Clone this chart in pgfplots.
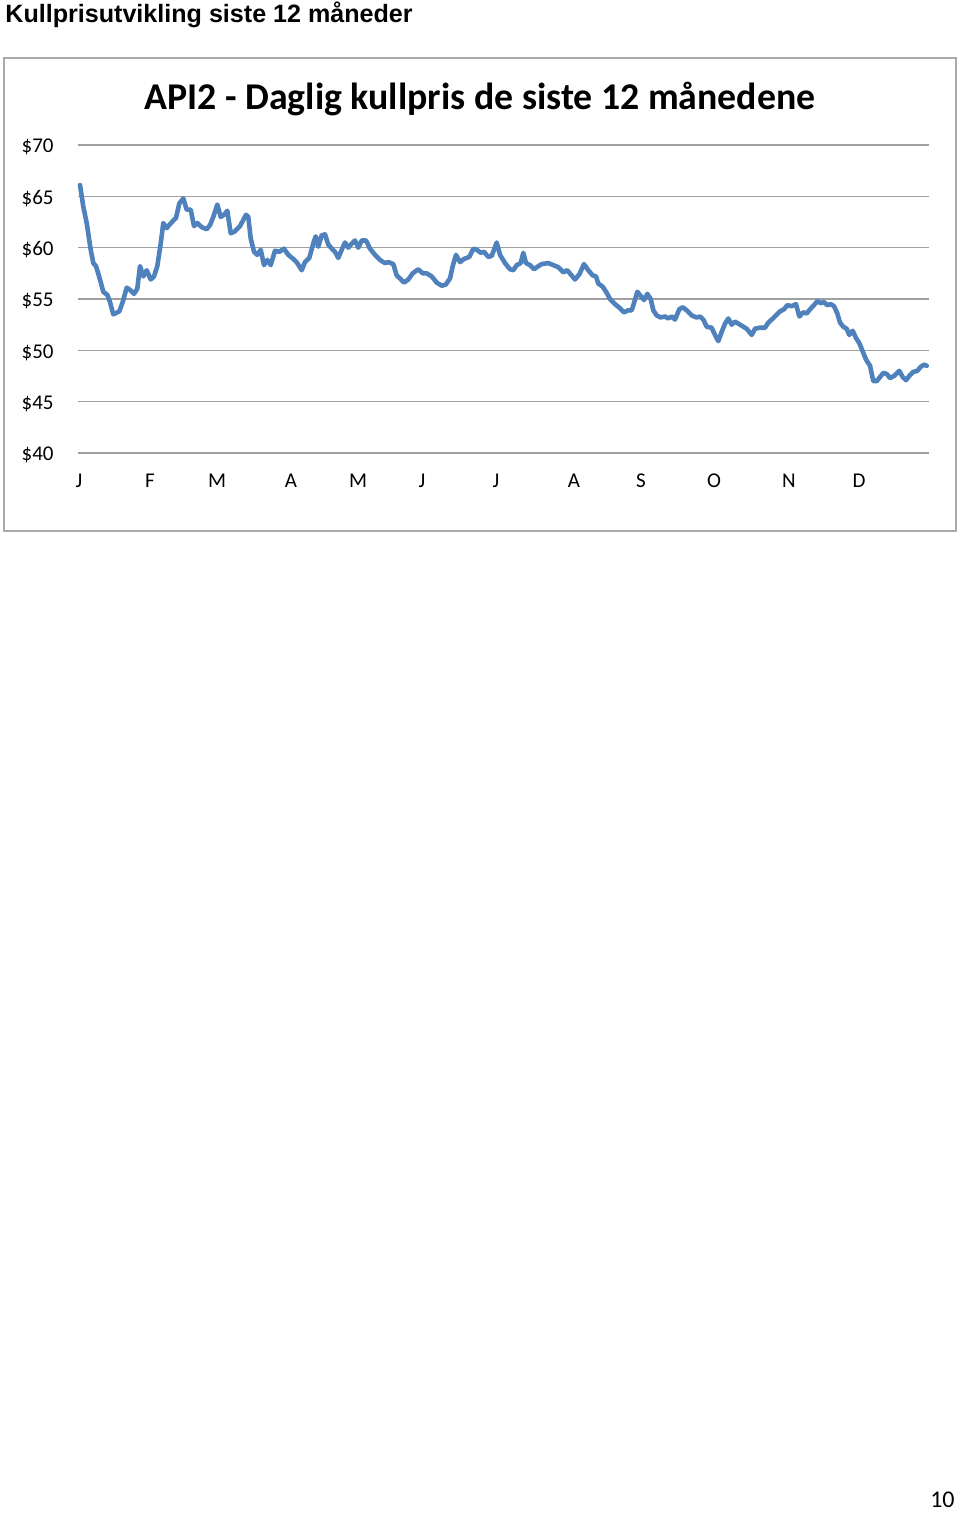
\documentclass[border=0pt]{standalone}
\usepackage{pgfplots}
\pgfplotsset{compat=1.18}
\usepackage{fontspec}
\setmainfont{Carlito}
\newfontfamily\arialb[BoldFont={Liberation Sans Bold}]{Liberation Sans}
\definecolor{serie}{RGB}{79,129,189}
\definecolor{gridc}{RGB}{160,160,160}
\definecolor{borderc}{RGB}{170,170,170}
\pgfplotstableread{
x y
2 66.1
5.3 64.0
8.7 62.4
12.7 59.8
15.3 58.5
18 58.2
22 56.9
25.3 55.7
29.3 55.4
32 54.7
35.3 53.5
41.3 53.8
44.7 54.7
48.7 56.1
52 55.9
56 55.5
59.3 56.0
62 58.2
65.3 57.2
68.7 57.8
72.7 56.9
76 57.2
79.3 58.2
82.7 60.4
85.3 62.4
88.7 61.9
92 62.3
98 62.9
101.3 64.3
105.3 64.8
108.7 63.7
112.7 63.7
116 62.1
119.3 62.4
123.7 62.0
128.7 61.8
132 62.2
135.3 63.0
139.3 64.2
142.7 63.0
146 63.2
149.3 63.6
152.7 61.4
157 61.6
162 62.1
168 63.2
170.3 63.0
172.7 60.9
176 59.6
179.3 59.3
182.7 59.8
186 58.3
189.3 58.8
192.7 58.3
197 59.7
201.3 59.6
206 59.9
210.3 59.3
215.3 58.9
219.3 58.5
223.7 57.8
227 58.6
231.3 59.0
235.3 60.4
237.7 61.1
240.3 60.1
243.7 61.2
247 61.3
250.3 60.3
254.7 59.8
257 59.6
260.3 59.0
263.7 59.8
267 60.5
270.3 60.0
273.7 60.4
277 60.7
280.3 60.0
283.7 60.7
288 60.7
292 59.9
297 59.3
302 58.8
307 58.5
310.3 58.6
315.3 58.4
318.7 57.3
322 57.0
326 56.6
330.3 56.9
334.7 57.5
340.3 57.9
344.7 57.5
348.7 57.5
353.7 57.2
358.7 56.6
363.7 56.3
367.7 56.4
372 57.0
374.7 58.2
378 59.3
382 58.6
386 58.9
391.3 59.1
395.3 59.9
398.7 59.8
402.7 59.5
406 59.6
410.3 59.1
413.7 59.2
418.7 60.5
422 59.3
427 58.5
432 57.9
435.3 57.8
438.7 58.3
442.7 58.5
445.3 59.5
448 58.5
452 58.3
456 57.9
460.3 58.2
463.7 58.4
470.3 58.5
475.3 58.3
480.3 58.1
485.3 57.6
489.3 57.8
492.7 57.4
497 56.9
501.3 57.4
506 58.4
510.3 57.8
514.7 57.3
518 57.2
520.3 56.5
524.7 56.2
528.7 55.6
532 55.0
537 54.5
542 54.1
546 53.7
550.3 53.9
553.7 53.9
556 54.6
559.3 55.7
562.7 55.3
566 54.9
569.3 55.5
572.7 55.0
575.3 53.9
578.7 53.4
582.7 53.2
587 53.3
590.3 53.1
593.7 53.3
597 53.0
601.3 54.0
604.7 54.2
608.7 53.9
613.7 53.4
618.7 53.2
622 53.3
625.3 53.0
628.7 52.3
633.7 52.2
637 51.5
640.3 50.9
643.7 51.8
647 52.6
650.3 53.1
653.7 52.5
657 52.8
662 52.5
668.7 52.1
673.7 51.5
677 52.1
681.3 52.2
687 52.2
690.3 52.7
693.7 53.0
698 53.4
702 53.8
706 54.0
709.3 54.4
713.7 54.3
718 54.5
721.3 53.3
725.3 53.7
728.7 53.6
732 54.0
736 54.4
739.3 54.8
742.7 54.6
746 54.7
749.3 54.4
752.7 54.5
756 54.3
759.3 53.6
762 52.7
765.3 52.3
768.7 52.1
771.3 51.5
774.7 51.9
778 51.2
781.3 50.7
784.7 49.9
788 49.1
792 48.5
795.3 47.0
798.7 47.0
802 47.4
805.3 47.8
808.7 47.7
812 47.3
816 47.5
821.3 48.0
824.7 47.4
828 47.1
832 47.6
835.3 47.9
839.3 48.0
842.7 48.4
846 48.6
848.7 48.5
}\pricedata
\begin{document}
\begin{tikzpicture}
\useasboundingbox (0,0) rectangle (480bp,-756.5bp);
\fill[white] (0,0) rectangle (480bp,-756.5bp);
\node[anchor=base west, inner sep=0pt, font=\arialb\bfseries\fontsize{12.55bp}{14bp}\selectfont] at (2.5bp,-11bp) {Kullprisutvikling siste 12 måneder};
\draw[borderc, line width=0.6bp] (2bp,-29bp) rectangle (478bp,-265.5bp);
\node[anchor=base, inner sep=0pt, font=\bfseries\fontsize{18.9bp}{22bp}\selectfont] at (240bp,-54.7bp) {API2 - Daglig kullpris de siste 12 månedene};
\begin{axis}[
  scale only axis,
  width=425.5bp, height=154bp,
  at={(39bp,-226.5bp)}, anchor=south west,
  xmin=0, xmax=851, ymin=40, ymax=70,
  ytick={40,45,...,70},
  yticklabel={\$\pgfmathprintnumber{\tick}},
  xtick={1,72,139,213,280,344,418,496,563,636,711,781},
  xticklabels={J,F,M,A,M,J,J,A,S,O,N,D},
  axis line style={draw=none},
  tick style={draw=none},
  ymajorgrids,
  major grid style={gridc, line width=0.75bp},
  every tick label/.append style={inner sep=0pt, font=\fontsize{10.5bp}{12bp}\selectfont},
  yticklabel style={anchor=base east, xshift=-12bp, yshift=-3.85bp},
  xticklabel style={anchor=base, yshift=-17bp},
  /pgf/number format/assume math mode=true,
  clip=false,
]
\addplot[serie, line width=2.3bp, line join=round, line cap=round] table[x=x,y=y] {\pricedata};
\end{axis}
\node[anchor=base east, inner sep=0pt, font=\fontsize{12bp}{14bp}\selectfont] at (477.5bp,-753.5bp) {10};
\end{tikzpicture}
\end{document}
